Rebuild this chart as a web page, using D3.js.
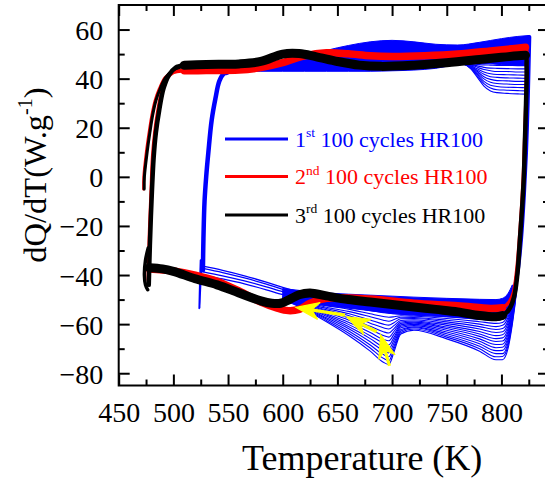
<!DOCTYPE html>
<html><head><meta charset="utf-8">
<script src="https://cdn.jsdelivr.net/npm/d3@7"></script>
<style>
html,body{margin:0;padding:0;background:#fff;}
svg{display:block;font-family:"Liberation Serif","Times New Roman",serif;}
</style></head><body>
<svg id="chart" width="545" height="482"></svg>
<script>
// ---------- axis ticks ----------
const xTickValues = [450, 500, 550, 600, 650, 700, 750, 800];
const xMinorTicks = [475, 525, 575, 625, 675, 725, 775, 825];
const yTickValues = [-80, -60, -40, -20, 0, 20, 40, 60];
const yMinorTicks = [-70, -50, -30, -10, 10, 30, 50];

// ---------- legend ----------
const legendOrdinals = ["1", "2", "3"];
const legendSuffixes = ["st", "nd", "rd"];
const legendText = " 100 cycles HR100";
const seriesColors = ["#0000ff", "#ff0000", "#000000"];

// ---------- 3rd 100 cycles (black) ----------
const blackLoopT = [477.5,478.5,480,482,484,487,491,496,502,510,530,560,580,600,615,630,650,670,690,720,750,780,800,815,822,823,822.5,821.5,820.5,819,817,814.5,811.5,807,801,795,780,760,740,720,700,680,660,640,625,615,606,598,590,580,560,540,520,500,490,478];
const blackLoopV = [-44,-28,-10,8,18,27,36,41.5,44.5,45.5,45.8,46,47,50,50.2,49,47,45.5,45,45.5,46.5,47.8,48.7,49.3,49.5,45,30,15,0,-12,-25,-40,-49,-54,-56.5,-57,-56.5,-55,-54,-53,-52,-51,-50,-48.5,-47.3,-48,-50,-51.5,-51.5,-50.5,-47.3,-44,-41.5,-38.5,-37.5,-37];
const blackHookT = [477, 474.5, 473.5, 474.5, 476.5];
const blackHookV = [-29, -34, -40, -44, -46];
const blackStartT = [473.3, 473.5, 476, 478.5, 481, 484, 488, 493, 500, 510];
const blackStartV = [-5, 0, 10, 18, 25, 31, 36, 40.5, 43.5, 45];

// ---------- 2nd 100 cycles (red) ----------
const redLoopT = [477,478,479.5,481,483,485.5,489,494,500,510,530,560,580,600,620,640,660,680,700,730,760,790,810,822,823,822.3,821,820,818.5,816.5,814,811,807,801,790,760,720,680,640,625,615,605,595,580,560,540,520,500,478];
const redLoopV = [-42,-25,-8,8,18,26,34,40,42.5,43.2,43.3,43.5,44.5,46.5,49.3,50.5,50.1,49.3,49,49.3,50,51.3,52.2,52.8,45,30,12,0,-12,-25,-38,-47,-51,-53.3,-53.6,-52.5,-51.5,-49.8,-49.5,-51.5,-54,-54.5,-53.5,-51,-46.5,-42.5,-40,-38.3,-37.5];
const redStartT = [472.8, 473, 475.3, 477.8, 480.3, 483.3, 487.3, 492.5, 500, 510];
const redStartV = [-5, 0, 10, 18, 25, 31, 36, 40.5, 43, 43.3];

// ---------- 1st 100 cycles (blue) ----------
const blueUpBandT   = [548, 560, 580, 600, 620, 640, 660, 680, 700, 720, 740, 760, 780, 800, 815, 825.5];
const blueUpBandTop = [43, 44, 45, 46.5, 49, 51.5, 53.5, 55, 55.6, 55, 54, 53.7, 54.8, 56.3, 57.2, 57.6];
const blueUpBandBot = [41.5, 43, 43, 43, 43, 43, 43, 43, 43.2, 43.5, 44.2, 45.8, 46.3, 45.7, 45.5, 45.5];

const blueLowBandT   = [600, 620, 640, 660, 680, 700, 720, 750, 780, 795, 801, 806, 810];
const blueLowBandTop = [-45.5, -46.5, -47.3, -47.8, -48.2, -48.6, -49, -49.5, -49.9, -50, -49.5, -47.5, -44];
const blueLowBandBot = [-49.5, -51, -52.5, -53.5, -54.5, -55.7, -56.3, -57, -58, -58.5, -58, -55, -49];

const blueUpFanT = [755, 765, 772, 778, 784, 790, 796, 805, 815, 822];
const blueUpFan = [
  [46.5, 46.3, 46.0, 45.8, 45.6, 45.5, 45.4, 45.4, 45.3, 45.3],
  [46.5, 46.3, 45.8, 45.2, 44.6, 44.3, 44.2, 44.1, 44.0, 44.0],
  [46.5, 46.2, 45.6, 44.6, 43.7, 43.2, 42.9, 42.9, 42.7, 42.7],
  [46.5, 46.2, 45.3, 44.0, 42.7, 42.0, 41.7, 41.6, 41.5, 41.4],
  [46.5, 46.2, 45.1, 43.4, 41.8, 40.8, 40.5, 40.3, 40.2, 40.1],
  [46.5, 46.1, 44.9, 42.9, 40.8, 39.7, 39.2, 39.1, 38.9, 38.9],
  [46.5, 46.1, 44.7, 42.3, 39.9, 38.5, 38.0, 37.8, 37.6, 37.6],
  [46.5, 46.1, 44.4, 41.7, 38.9, 37.3, 36.8, 36.5, 36.4, 36.3],
  [46.5, 46.0, 44.2, 41.1, 38.0, 36.2, 35.5, 35.3, 35.1, 35.0],
  [46.5, 46.0, 44.0, 40.5, 37.0, 35.0, 34.3, 34.0, 33.8, 33.7]
];

const blueLowFanT = [600, 620, 640, 660, 680, 692, 697, 702, 708, 720, 750, 780, 795, 801, 806, 810, 814, 818, 822, 825];
const blueLowFan = [
  [-49, -50.5, -52, -53, -54.5, -55.3, -55.6, -55.8, -56, -56.3, -57, -58, -58.5, -58, -55, -49, -40, -24, 5, 45],
  [-49.1, -50.8, -52.5, -53.9, -55.8, -56.9, -57.2, -57.0, -56.6, -56.8, -57.7, -59, -59.7, -59.3, -56.2, -49.8, -40.5, -24.2, 5, 45],
  [-49.2, -51.0, -53.1, -54.8, -57.0, -58.4, -58.8, -58.1, -57.2, -57.3, -58.4, -60, -61, -60.5, -57.3, -50.7, -40.9, -24.3, 5, 45],
  [-49.2, -51.3, -53.6, -55.7, -58.3, -60.0, -60.4, -59.3, -57.8, -57.7, -59.1, -61, -62.2, -61.8, -58.5, -51.5, -41.4, -24.5, 5, 45],
  [-49.3, -51.6, -54.2, -56.5, -59.6, -61.5, -62.0, -60.5, -58.5, -58.2, -59.8, -62, -63.4, -63.1, -59.6, -52.4, -41.8, -24.6, 5, 45],
  [-49.4, -51.8, -54.7, -57.4, -60.9, -63.1, -63.6, -61.7, -59.1, -58.7, -60.5, -63, -64.7, -64.3, -60.8, -53.2, -42.3, -24.8, 5, 45],
  [-49.5, -52.1, -55.2, -58.3, -62.1, -64.6, -65.3, -62.8, -59.7, -59.2, -61.2, -64, -65.9, -65.6, -61.9, -54.1, -42.8, -24.9, 5, 45],
  [-49.5, -52.4, -55.8, -59.2, -63.4, -66.2, -66.8, -64.0, -60.3, -59.6, -61.8, -65, -67.1, -66.9, -63.1, -54.9, -43.2, -25.1, 5, 45],
  [-49.6, -52.7, -56.3, -60.1, -64.7, -67.7, -68.5, -65.2, -60.9, -60.1, -62.5, -66, -68.3, -68.2, -64.2, -55.8, -43.7, -25.2, 5, 45],
  [-49.7, -52.9, -56.8, -61.0, -65.9, -69.3, -70.1, -66.3, -61.5, -60.6, -63.2, -67, -69.6, -69.4, -65.4, -56.6, -44.2, -25.4, 5, 45],
  [-49.8, -53.2, -57.4, -61.8, -67.2, -70.8, -71.7, -67.5, -62.2, -61.1, -63.9, -68, -70.8, -70.7, -66.5, -57.5, -44.6, -25.5, 5, 45],
  [-49.8, -53.5, -57.9, -62.7, -68.5, -72.4, -73.3, -68.7, -62.8, -61.5, -64.6, -69, -72, -72, -67.7, -58.3, -45.1, -25.7, 5, 45],
  [-49.9, -53.7, -58.5, -63.6, -69.7, -73.9, -74.9, -69.8, -63.4, -62.0, -65.3, -70, -73.3, -73.2, -68.8, -59.2, -45.5, -25.8, 5, 45],
  [-50, -54, -59, -64.5, -71, -75.5, -76.5, -71, -64, -62.5, -66, -71, -74.5, -74.5, -70, -60, -46, -26, 5, 45]
];

const blueLeftT = [527, 545, 565, 585, 600, 615];
const blueLeft = [
  [-36.4, -38.1, -40.3, -42.9, -45, -47],
  [-37.3, -39, -41.2, -43.7, -45.8, -47.5],
  [-38.7, -40.3, -42.4, -44.8, -46.8, -48.3],
  [-40, -41.6, -43.6, -46, -48, -49.5]
];
const blueRiseT = [527, 527.5, 528.5, 530, 532, 535, 538.5, 542, 546, 552, 560];
const blueRiseV = [-38, -25, -10, 0, 10, 23, 32, 39, 42, 43, 43.3];
const blueSpikeT = [525, 524.3, 523.8, 524.6, 525.8];
const blueSpikeV = [-34, -44, -53.5, -45, -37];
const blueRightT = [806, 811, 815, 818, 820.5, 822.5, 824, 825, 825.5];
const blueRightV = [-50, -47, -38, -25, -8, 10, 30, 48, 57];

// ---------- yellow arrows ----------
const arrowTailT = [657, 686, 697.6];
const arrowTailV = [-56.3, -63.1, -77];
const arrowTipT = [612.3, 658.5, 689.6];
const arrowTipV = [-53.2, -57, -64.4];

// ================= drawing =================
const svg = d3.select("#chart");
const x = d3.scaleLinear().domain([450, 843.5]).range([118.7, 549]);
const y = d3.scaleLinear().domain([-85, 70]).range([385.5, 5]);

const loopLine = d3.line().x(d => x(d[0])).y(d => y(d[1])).curve(d3.curveCatmullRom.alpha(0.5));
const monoLine = d3.line().x(d => x(d[0])).y(d => y(d[1])).curve(d3.curveMonotoneX);
const bandArea = d3.area().x(d => x(d[0])).y0(d => y(d[1])).y1(d => y(d[2])).curve(d3.curveMonotoneX);

const plot = svg.append("g");

function path(g, data, gen, color, w) {
  return g.append("path").attr("d", gen(data)).attr("fill", "none")
    .attr("stroke", color).attr("stroke-width", w)
    .attr("stroke-linejoin", "round").attr("stroke-linecap", "round");
}

// Blue
const blue = seriesColors[0];
plot.append("path").attr("d", bandArea(d3.zip(blueUpBandT, blueUpBandBot, blueUpBandTop)))
  .attr("fill", blue).attr("stroke", blue).attr("stroke-width", 1);
plot.append("path").attr("d", bandArea(d3.zip(blueLowBandT, blueLowBandBot, blueLowBandTop)))
  .attr("fill", blue).attr("stroke", blue).attr("stroke-width", 1);
blueUpFan.forEach(row => path(plot, d3.zip(blueUpFanT, row), monoLine, blue, 1.1));
blueLowFan.forEach(row => path(plot, d3.zip(blueLowFanT, row), monoLine, blue, 1.1));
blueLeft.forEach(row => path(plot, d3.zip(blueLeftT, row), monoLine, blue, 1.3));
path(plot, d3.zip(blueRiseT, blueRiseV), loopLine, blue, 4.5);
path(plot, d3.zip(blueSpikeT, blueSpikeV), loopLine, blue, 2);
path(plot, d3.zip(blueRightT, blueRightV), loopLine, blue, 4);

// Red: thin loop + thick band on the two branches
const red = seriesColors[1];
const redPts = d3.zip(redLoopT, redLoopV);
path(plot, d3.zip(redStartT, redStartV), loopLine, red, 3);
path(plot, redPts, loopLine, red, 3.5);
path(plot, redPts.slice(9, 24), loopLine, red, 7.5);
path(plot, redPts.slice(33), loopLine, red, 7.5);

// Black: thin loop + thick band on the two branches
const black = seriesColors[2];
const blackPts = d3.zip(blackLoopT, blackLoopV);
path(plot, d3.zip(blackStartT, blackStartV), loopLine, black, 3);
path(plot, d3.zip(blackHookT, blackHookV), loopLine, black, 3.5);
path(plot, blackPts, loopLine, black, 4.5);
path(plot, blackPts.slice(9, 25), loopLine, black, 9);
path(plot, blackPts.slice(34), loopLine, black, 9);

// Arrows
const arrowG = svg.append("g");
arrowTailT.forEach((t, i) => {
  const x0 = x(t), y0 = y(arrowTailV[i]);
  const x1 = x(arrowTipT[i]), y1 = y(arrowTipV[i]);
  const dx = x1 - x0, dy = y1 - y0, len = Math.hypot(dx, dy);
  const ux = dx / len, uy = dy / len, nx = -uy, ny = ux;
  const L = 23, W = 8.5;
  arrowG.append("line").attr("x1", x0).attr("y1", y0)
    .attr("x2", x1 - ux * L * 0.6).attr("y2", y1 - uy * L * 0.6)
    .attr("stroke", "#ffff00").attr("stroke-width", 3.2);
  const pts = [
    [x1, y1],
    [x1 - ux * L + nx * W, y1 - uy * L + ny * W],
    [x1 - ux * L * 0.68, y1 - uy * L * 0.68],
    [x1 - ux * L - nx * W, y1 - uy * L - ny * W]
  ];
  arrowG.append("polygon").attr("points", pts.map(p => p.join(",")).join(" "))
    .attr("fill", "#ffff00").attr("stroke", "#ffff00").attr("stroke-width", 1.2)
    .attr("stroke-linejoin", "miter");
});

// Legend
const legG = svg.append("g");
const legY = [139, 176.5, 215];
legendOrdinals.forEach((o, i) => {
  legG.append("line").attr("x1", 225).attr("x2", 288).attr("y1", legY[i]).attr("y2", legY[i])
    .attr("stroke", seriesColors[i]).attr("stroke-width", 3);
  const t = legG.append("text").attr("x", 295).attr("y", legY[i] + 7.5)
    .attr("fill", seriesColors[i]).style("font-size", "22px");
  t.append("tspan").text(o);
  t.append("tspan").attr("dy", -9.5).style("font-size", "13.5px").text(legendSuffixes[i]);
  t.append("tspan").attr("dy", 9.5).text(legendText);
});

// Axes
function styleAxis(g) {
  g.attr("font-family", null).attr("font-size", null);
  g.select(".domain").remove();
  g.selectAll("line").attr("stroke-width", 2);
}
const gB = svg.append("g").attr("transform", `translate(0,${y(-85)})`)
  .call(d3.axisBottom(x).tickValues(xTickValues).tickSizeInner(-11).tickSizeOuter(0).tickFormat(d3.format("d")));
styleAxis(gB);
gB.selectAll("text").attr("y", 36.2).attr("dy", null).style("font-size", "28px").attr("fill", "#000");
const gBm = svg.append("g").attr("transform", `translate(0,${y(-85)})`)
  .call(d3.axisBottom(x).tickValues(xMinorTicks).tickSizeInner(-6).tickSizeOuter(0).tickFormat(""));
styleAxis(gBm);
const gT = svg.append("g").attr("transform", `translate(0,${y(70)})`)
  .call(d3.axisTop(x).tickValues(xTickValues).tickSizeInner(-11).tickSizeOuter(0).tickFormat(""));
styleAxis(gT);
const gTm = svg.append("g").attr("transform", `translate(0,${y(70)})`)
  .call(d3.axisTop(x).tickValues(xMinorTicks).tickSizeInner(-6).tickSizeOuter(0).tickFormat(""));
styleAxis(gTm);

const gL = svg.append("g").attr("transform", `translate(${x(450)},0)`)
  .call(d3.axisLeft(y).tickValues(yTickValues).tickSizeInner(-11).tickSizeOuter(0).tickFormat(d3.format("d")));
styleAxis(gL);
gL.selectAll("text").attr("x", -15.5).attr("dy", null).attr("y", 10).style("font-size", "28px").attr("fill", "#000");
const gLm = svg.append("g").attr("transform", `translate(${x(450)},0)`)
  .call(d3.axisLeft(y).tickValues(yMinorTicks).tickSizeInner(-6).tickSizeOuter(0).tickFormat(""));
styleAxis(gLm);
const gR = svg.append("g").attr("transform", `translate(${x(843.5)},0)`)
  .call(d3.axisRight(y).tickValues(yTickValues).tickSizeInner(-11).tickSizeOuter(0).tickFormat(""));
styleAxis(gR);
const gRm = svg.append("g").attr("transform", `translate(${x(843.5)},0)`)
  .call(d3.axisRight(y).tickValues(yMinorTicks).tickSizeInner(-6).tickSizeOuter(0).tickFormat(""));
styleAxis(gRm);

svg.append("rect").attr("x", x(450)).attr("y", y(70))
  .attr("width", x(843.5) - x(450)).attr("height", y(-85) - y(70))
  .attr("fill", "none").attr("stroke", "#000").attr("stroke-width", 2);

// Axis titles
svg.append("text").attr("x", 242).attr("y", 470).style("font-size", "36px").attr("fill", "#000")
  .text("Temperature (K)");
const yl = svg.append("text").attr("transform", "translate(46,175) rotate(-90)")
  .attr("text-anchor", "middle").style("font-size", "32.5px").attr("fill", "#000");
yl.append("tspan").text("dQ/dT(W.g");
yl.append("tspan").attr("dy", -14).style("font-size", "20px").text("-1");
yl.append("tspan").attr("dy", 14).text(")");
</script></body></html>
